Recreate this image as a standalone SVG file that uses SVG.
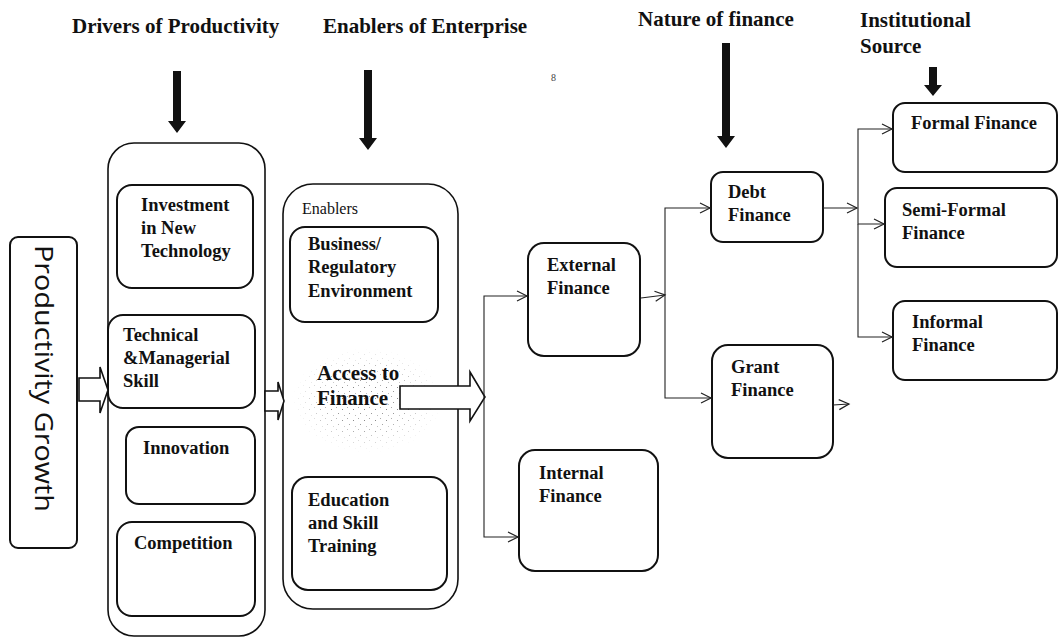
<svg xmlns="http://www.w3.org/2000/svg" width="1059" height="638" viewBox="0 0 1059 638">
<style>
.t{font-family:"Liberation Serif","Times New Roman",serif;font-weight:bold;fill:#111;}
.title{font-size:21px;}
.body{font-size:18.5px;}
.plain{font-family:"Liberation Serif","Times New Roman",serif;font-weight:normal;font-size:16px;fill:#111;}
.box{fill:none;stroke:#111;stroke-width:2;}
.outer{fill:none;stroke:#111;stroke-width:1.6;}
.conn{fill:none;stroke:#222;stroke-width:1.1;}
.hollow{fill:#fff;stroke:#111;stroke-width:1.6;stroke-linejoin:miter;}
.thick{fill:#111;}
</style>
<defs>
<marker id="open" markerUnits="userSpaceOnUse" markerWidth="14" markerHeight="14" refX="11" refY="6" orient="auto">
<path d="M1,1 L11,6 L1,11" fill="none" stroke="#222" stroke-width="1.2"/>
</marker>
<pattern id="dots" width="11" height="11" patternUnits="userSpaceOnUse">
<rect x="1" y="2" width="1" height="1" fill="#888"/>
<rect x="6" y="0" width="1" height="1" fill="#aaa"/>
<rect x="8" y="6" width="1" height="1" fill="#999"/>
<rect x="3" y="8" width="1" height="1" fill="#bbb"/>
</pattern>
<radialGradient id="fade" cx="0.5" cy="0.5" r="0.5">
<stop offset="0.45" stop-color="#fff" stop-opacity="1"/>
<stop offset="1" stop-color="#fff" stop-opacity="0"/>
</radialGradient>
<mask id="fadeMask"><rect x="292" y="348" width="150" height="105" fill="url(#fade)"/></mask>
</defs>

<g id="titles">
<text class="t title" x="72" y="33">Drivers of Productivity</text>
<text class="t title" x="323" y="33">Enablers of Enterprise</text>
<text class="t title" x="638" y="26">Nature of finance</text>
<text class="t title" x="860" y="27">Institutional</text>
<text class="t title" x="860" y="53">Source</text>
<text x="551" y="81" font-family="Liberation Serif, serif" font-size="10" fill="#444">8</text>
</g>

<g id="top-arrows">
<path class="thick" d="M173,71 H181 V121 H186 L177,133 L168,121 H173 Z"/>
<path class="thick" d="M364,70 H372 V138 H377 L368,150 L359,138 H364 Z"/>
<path class="thick" d="M722,43 H730 V136 H735 L726,148 L717,136 H722 Z"/>
<path class="thick" d="M929,67 H937 V85 H942 L933,96 L924,85 H929 Z"/>
</g>

<g id="productivity-growth">
<rect class="box" x="10" y="237" width="67" height="311" rx="8"/>
<text transform="translate(35,245) rotate(90)" font-family="Open Sans, Liberation Sans, sans-serif" font-size="25" fill="#111" textLength="267" lengthAdjust="spacingAndGlyphs">Productivity Growth</text>
</g>

<g id="drivers">
<rect class="outer" x="108" y="143" width="157" height="493" rx="26"/>
<g id="investment">
<rect class="box" x="117" y="185" width="136" height="103" rx="15"/>
<text class="t body" x="141" y="211">Investment</text>
<text class="t body" x="141" y="234">in New</text>
<text class="t body" x="141" y="257">Technology</text>
</g>
<g id="technical">
<rect class="box" x="108" y="315" width="147" height="93" rx="15" fill="#fff"/>
<text class="t body" x="123" y="341">Technical</text>
<text class="t body" x="123" y="364">&amp;Managerial</text>
<text class="t body" x="123" y="387">Skill</text>
</g>
<g id="innovation">
<rect class="box" x="126" y="427" width="129" height="77" rx="13"/>
<text class="t body" x="143" y="454">Innovation</text>
</g>
<g id="competition">
<rect class="box" x="117" y="522" width="138" height="94" rx="15"/>
<text class="t body" x="134" y="549">Competition</text>
</g>
</g>

<g id="enablers">
<rect class="outer" x="283" y="184" width="175" height="425" rx="30"/>
<text class="plain" x="302" y="214">Enablers</text>
<g id="business">
<rect class="box" x="290" y="227" width="148" height="95" rx="15"/>
<text class="t body" x="308" y="250">Business/</text>
<text class="t body" x="308" y="273">Regulatory</text>
<text class="t body" x="308" y="297">Environment</text>
</g>
<g id="access">
<rect x="292" y="348" width="150" height="105" fill="url(#dots)" mask="url(#fadeMask)"/>
<text class="t" x="317" y="380" font-size="21">Access to</text>
<text class="t" x="317" y="405" font-size="21">Finance</text>
</g>
<g id="education">
<rect class="box" x="292" y="477" width="155" height="113" rx="16"/>
<text class="t body" x="308" y="506">Education</text>
<text class="t body" x="308" y="529">and Skill</text>
<text class="t body" x="308" y="552">Training</text>
</g>
</g>

<g id="external">
<rect class="box" x="528" y="243" width="112" height="113" rx="16"/>
<text class="t body" x="547" y="271">External</text>
<text class="t body" x="547" y="294">Finance</text>
</g>
<g id="internal">
<rect class="box" x="519" y="450" width="139" height="121" rx="16"/>
<text class="t body" x="539" y="479">Internal</text>
<text class="t body" x="539" y="502">Finance</text>
</g>
<g id="debt">
<rect class="box" x="711" y="172" width="112" height="70" rx="12"/>
<text class="t body" x="728" y="198">Debt</text>
<text class="t body" x="728" y="221">Finance</text>
</g>
<g id="grant">
<rect class="box" x="712" y="345" width="121" height="113" rx="16"/>
<text class="t body" x="731" y="373">Grant</text>
<text class="t body" x="731" y="396">Finance</text>
</g>
<g id="formal">
<rect class="box" x="893" y="103" width="164" height="69" rx="12"/>
<text class="t body" x="911" y="129">Formal Finance</text>
</g>
<g id="semiformal">
<rect class="box" x="885" y="188" width="172" height="79" rx="12"/>
<text class="t body" x="902" y="216">Semi-Formal</text>
<text class="t body" x="902" y="239">Finance</text>
</g>
<g id="informal">
<rect class="box" x="893" y="301" width="164" height="79" rx="12"/>
<text class="t body" x="912" y="328">Informal</text>
<text class="t body" x="912" y="351">Finance</text>
</g>

<g id="connectors">
<path class="hollow" d="M79,378 H100 V367 L108,390 L100,413 V401 H79 Z"/>
<path class="hollow" d="M265,391 H278 V382 L284,401 L278,420 V411 H265 Z"/>
<path class="hollow" d="M400,386 H470 V372 L485,397 L470,421 V409 H400 Z"/>
<path class="conn" d="M484,397 V296 H527" marker-end="url(#open)"/>
<path class="conn" d="M484,397 V537 H518" marker-end="url(#open)"/>
<path class="conn" d="M641,298 L665,295" marker-end="url(#open)"/>
<path class="conn" d="M665,296 V208 H710" marker-end="url(#open)"/>
<path class="conn" d="M665,296 V398 H711" marker-end="url(#open)"/>
<path class="conn" d="M823,208 H857" marker-end="url(#open)"/>
<path class="conn" d="M858,208 V129 H892" marker-end="url(#open)"/>
<path class="conn" d="M858,208 V224 H884" marker-end="url(#open)"/>
<path class="conn" d="M858,224 V337 H892" marker-end="url(#open)"/>
<path class="conn" d="M833,405 L849,404" marker-end="url(#open)"/>
</g>
</svg>
